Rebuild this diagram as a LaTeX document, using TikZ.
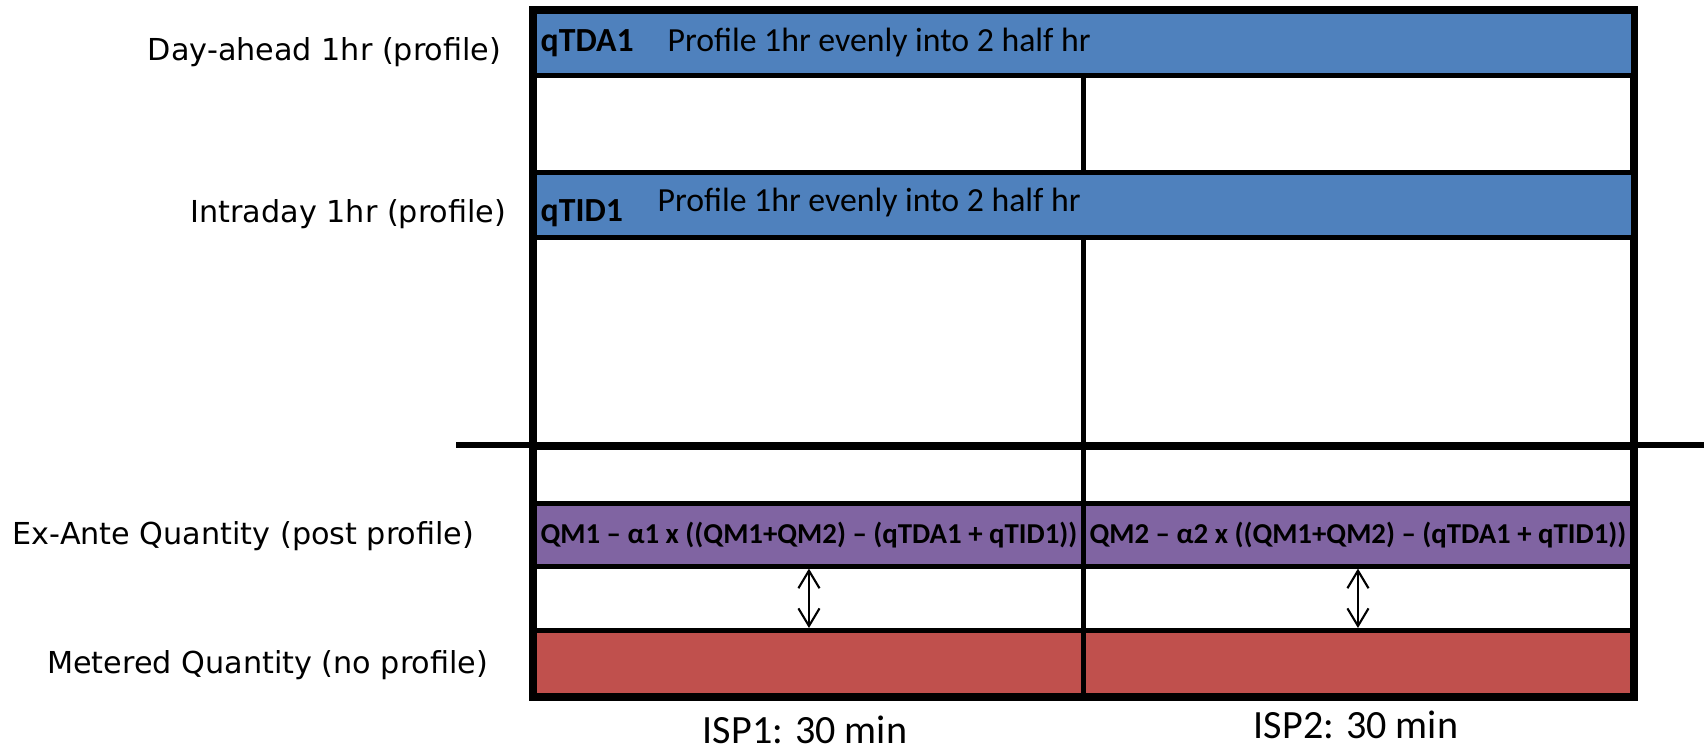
\documentclass[tikz,border=0pt]{standalone}
\usepackage{fontspec}
\setmainfont{Carlito}
\newfontfamily\labelfont{DejaVu Sans}
\usepackage{xcolor}
\usetikzlibrary{positioning,arrows.meta}

\definecolor{dablue}{HTML}{4F81BD}
\definecolor{expurple}{HTML}{8064A2}
\definecolor{metred}{HTML}{C0504D}

\begin{document}
\begin{tikzpicture}[
    x=0.01cm, y=-0.01cm,
    cell/.style={draw, line width=1.3pt, anchor=north west, inner sep=0pt, minimum width=5.49cm},
    bar/.style={cell, minimum width=10.98cm},
    rowlabel/.style={anchor=east, inner sep=0pt, font=\labelfont\fontsize{8.6}{10}\selectfont},
    bartext/.style={anchor=west, inner sep=0pt, font=\fontsize{9.6}{11}\selectfont},
    formula/.style={font=\bfseries\fontsize{8.2}{10}\selectfont},
    isp/.style={inner sep=0pt, font=\fontsize{11.4}{13}\selectfont},
    >={Straight Barb[length=5pt,width=6pt]}
]
  \useasboundingbox (0,0) rectangle (1704,749);

  % day-ahead bar and the row under it
  \node[bar, fill=dablue, minimum height=0.64cm] (da) at (532,9) {};
  \node[cell, minimum height=0.97cm] (da1) at (532,73) {};
  \node[cell, minimum height=0.97cm] (da2) at (1081,73) {};

  % intraday bar and the rows under it
  \node[bar, fill=dablue, minimum height=0.65cm] (id) at (532,170) {};
  \foreach \x [count=\j] in {532,1081} {
    \node[cell, minimum height=2.10cm] (id\j) at (\x,235) {};
    \node[cell, minimum height=0.56cm] (pp\j) at (\x,445) {};
  }

  % ex-ante and metered quantities
  \node[cell, fill=expurple, formula, minimum height=0.63cm] (ea1) at (532,501)
    {QM1 -- α1 x ((QM1+QM2) -- (qTDA1 + qTID1))};
  \node[cell, fill=expurple, formula, minimum height=0.63cm] (ea2) at (1081,501)
    {QM2 -- α2 x ((QM1+QM2) -- (qTDA1 + qTID1))};
  \foreach \x [count=\j] in {532,1081} {
    \node[cell, minimum height=0.64cm] (gap\j) at (\x,564) {};
    \node[cell, fill=metred, minimum height=0.65cm] (mq\j) at (\x,628) {};
  }

  % outer frame and the split line
  \draw[line width=1.8pt] (da.north west) rectangle (mq2.south east);
  \draw[line width=1.8pt] (456,445) -- (1704,445);

  % bar texts
  \node[bartext, font=\bfseries\fontsize{9.6}{11}\selectfont] (qtda) at (540,43) {qTDA1};
  \node[bartext] (prda) at (667,43) {Profile 1hr evenly into 2 half hr};
  \node[bartext, font=\bfseries\fontsize{9.6}{11}\selectfont] (qtid) at (540,213) {qTID1};
  \node[bartext] (prid) at (657,203) {Profile 1hr evenly into 2 half hr};

  % differences
  \foreach \j in {1,2}
    \draw[<->, line width=0.6pt] (ea\j.south) -- (mq\j.north);

  % row labels
  \node[rowlabel] (lda) at (502,52) {Day-ahead 1hr (profile)};
  \node[rowlabel] (lid) at (507,214) {Intraday 1hr (profile)};
  \node[rowlabel] (lea) at (475,536) {Ex-Ante Quantity (post profile)};
  \node[rowlabel] (lmq) at (489,665) {Metered Quantity (no profile)};

  % period labels
  \node[isp] (isp1) at (805,730) {ISP1: 30 min};
  \node[isp] (isp2) at (1356,725) {ISP2: 30 min};

\end{tikzpicture}
\end{document}
